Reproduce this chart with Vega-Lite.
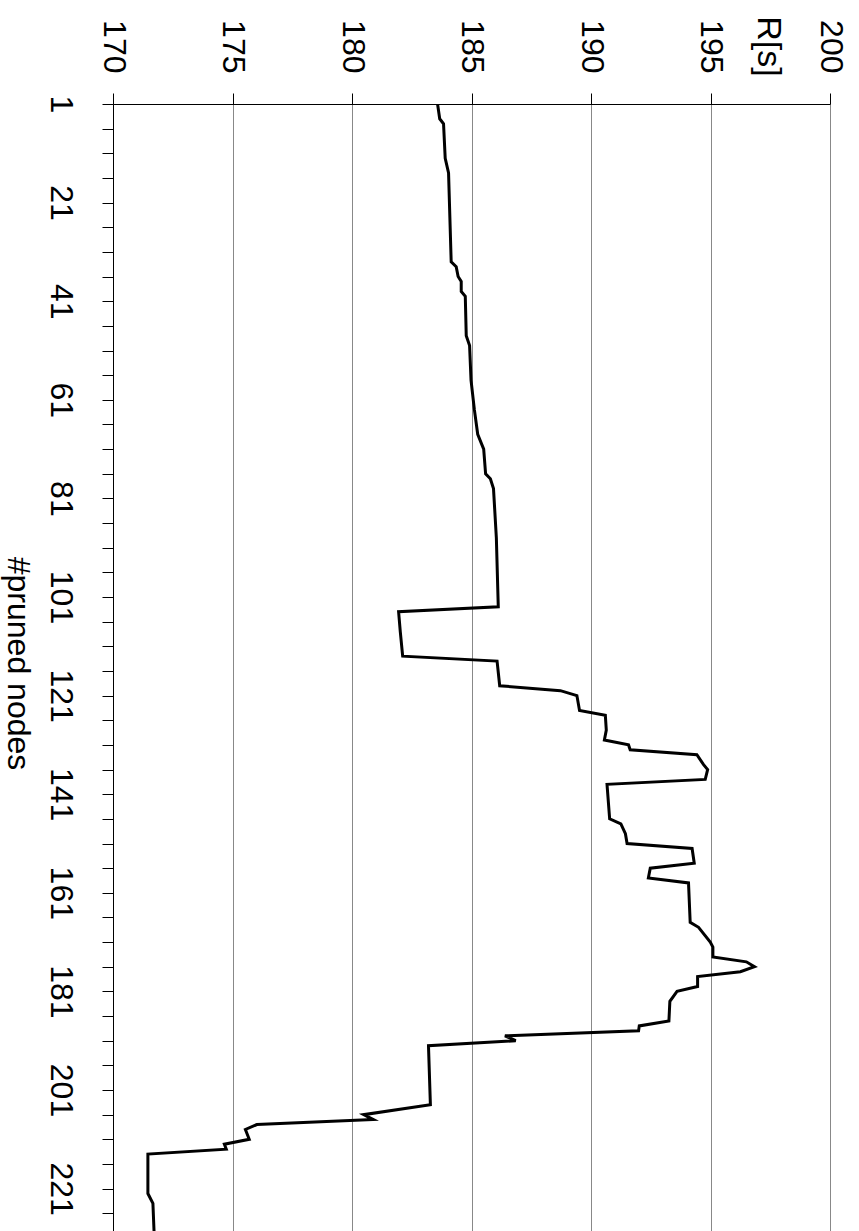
{
  "$schema": "https://vega.github.io/schema/vega-lite/v6.json",
  "autosize": {"type": "none"},
  "padding": {"left": 113, "top": 104, "right": 29, "bottom": 0},
  "width": 717,
  "height": 1127,
  "background": "white",
  "config": {
    "view": {"stroke": null},
    "font": "Liberation Sans",
    "axis": {"labelFont": "Liberation Sans", "titleFont": "Liberation Sans", "labelColor": "black", "titleColor": "black", "titleFontWeight": "normal"}
  },
  "data": {
    "values": [
      {"n": 1, "R": 183.58}, {"n": 4, "R": 183.67}, {"n": 5, "R": 183.83}, {"n": 12, "R": 183.9},
      {"n": 15, "R": 184.04}, {"n": 33, "R": 184.15}, {"n": 34, "R": 184.36}, {"n": 36, "R": 184.44},
      {"n": 37, "R": 184.57}, {"n": 39, "R": 184.57}, {"n": 40, "R": 184.74}, {"n": 48, "R": 184.78},
      {"n": 50, "R": 184.92}, {"n": 57, "R": 184.98}, {"n": 63, "R": 185.12}, {"n": 68, "R": 185.26},
      {"n": 71, "R": 185.51}, {"n": 76, "R": 185.59}, {"n": 77, "R": 185.79}, {"n": 79, "R": 185.92},
      {"n": 89, "R": 186.04}, {"n": 103, "R": 186.12}, {"n": 104, "R": 181.95}, {"n": 108, "R": 182.02},
      {"n": 113, "R": 182.12}, {"n": 114, "R": 186.07}, {"n": 119, "R": 186.18}, {"n": 120, "R": 188.72},
      {"n": 121, "R": 189.41}, {"n": 124, "R": 189.52}, {"n": 125, "R": 190.6}, {"n": 128, "R": 190.64},
      {"n": 130, "R": 190.56}, {"n": 131, "R": 191.57}, {"n": 132, "R": 191.64}, {"n": 133, "R": 194.43},
      {"n": 135, "R": 194.71}, {"n": 136, "R": 194.88}, {"n": 138, "R": 194.78}, {"n": 139, "R": 190.67},
      {"n": 146, "R": 190.78}, {"n": 147, "R": 191.25}, {"n": 149, "R": 191.44}, {"n": 151, "R": 191.51},
      {"n": 152, "R": 194.23}, {"n": 155, "R": 194.32}, {"n": 156, "R": 192.48}, {"n": 158, "R": 192.4},
      {"n": 159, "R": 194.08}, {"n": 167, "R": 194.15}, {"n": 168, "R": 194.5}, {"n": 171, "R": 194.99},
      {"n": 172, "R": 195.1}, {"n": 174, "R": 195.1}, {"n": 175, "R": 196.5}, {"n": 176, "R": 196.84},
      {"n": 177, "R": 196.25}, {"n": 178, "R": 194.46}, {"n": 180, "R": 194.46}, {"n": 181, "R": 193.6},
      {"n": 183, "R": 193.3}, {"n": 187, "R": 193.26}, {"n": 188, "R": 192.02}, {"n": 189, "R": 191.99},
      {"n": 190, "R": 186.4}, {"n": 191, "R": 186.85}, {"n": 192, "R": 183.2}, {"n": 204, "R": 183.28},
      {"n": 206, "R": 180.49}, {"n": 207, "R": 180.89}, {"n": 208, "R": 176.02}, {"n": 209, "R": 175.54},
      {"n": 211, "R": 175.7}, {"n": 212, "R": 174.66}, {"n": 213, "R": 174.74}, {"n": 214, "R": 171.46},
      {"n": 222, "R": 171.46}, {"n": 224, "R": 171.67}, {"n": 230, "R": 171.72}
    ]
  },
  "mark": {"type": "line", "color": "black", "strokeWidth": 3, "clip": true, "strokeJoin": "miter"},
  "encoding": {
    "order": {"field": "n", "type": "quantitative"},
    "x": {
      "field": "R", "type": "quantitative",
      "scale": {"domain": [170, 200], "nice": false, "zero": false},
      "axis": {
        "orient": "top",
        "values": [170, 175, 180, 185, 190, 195, 200],
        "labelAngle": 90, "labelAlign": "right", "labelBaseline": "middle",
        "labelFontSize": 32, "labelPadding": 20, "labelFlush": false, "labelOverlap": false,
        "tickSize": 11, "tickColor": "black", "domainColor": "black",
        "grid": true, "gridColor": "#888888", "gridWidth": 1,
        "title": "R[s]", "titleAngle": 90, "titleFontSize": 34,
        "titleAlign": "center", "titleBaseline": "middle",
        "titleX": 654, "titleY": -58
      }
    },
    "y": {
      "field": "n", "type": "quantitative",
      "scale": {"domain": [1, 229.6], "nice": false, "zero": false, "reverse": true},
      "axis": {
        "orient": "left",
        "values": [1, 6, 11, 16, 21, 26, 31, 36, 41, 46, 51, 56, 61, 66, 71, 76, 81, 86, 91, 96, 101, 106, 111, 116, 121, 126, 131, 136, 141, 146, 151, 156, 161, 166, 171, 176, 181, 186, 191, 196, 201, 206, 211, 216, 221, 226],
        "labelExpr": "(datum.value - 1) % 20 == 0 ? datum.value : ''",
        "labelAngle": 90, "labelAlign": "center", "labelBaseline": "top",
        "labelFontSize": 32, "labelPadding": 27, "labelFlush": false, "labelOverlap": false,
        "tickSize": 11, "tickColor": "black", "domainColor": "black",
        "grid": false,
        "title": "#pruned nodes", "titleAngle": 90, "titleFontSize": 32,
        "titleAlign": "center", "titleBaseline": "alphabetic",
        "titleX": -106, "titleY": 559
      }
    }
  }
}
